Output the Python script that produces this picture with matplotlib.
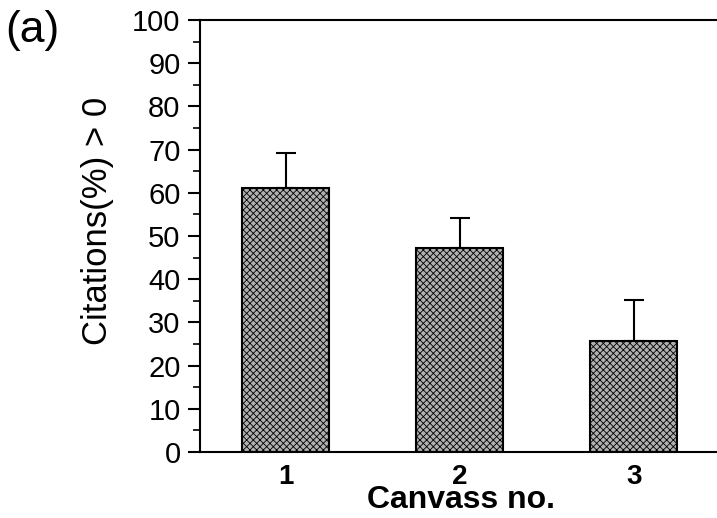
import matplotlib.pyplot as plt
import numpy as np

plt.rcParams["font.family"] = ["Liberation Sans", "DejaVu Sans"]
plt.rcParams["hatch.linewidth"] = 0.6

# data
canvass = [1, 2, 3]
citations = [61.1, 47.2, 25.8]
err_up = [8.1, 7.0, 9.3]
yticks = [0, 10, 20, 30, 40, 50, 60, 70, 80, 90, 100]

W, H = 717, 518
fig = plt.figure(figsize=(W / 100, H / 100), dpi=100)
ax = fig.add_axes([200 / W, 1 - 452 / H, 517 / W, 432 / H])

ax.bar(canvass, citations, width=0.5, color="#b0b0b0", edgecolor="black",
       linewidth=1.5, hatch="xxxxx", zorder=2)
ax.errorbar(canvass, citations, yerr=[np.zeros(3), err_up], fmt="none",
            ecolor="black", elinewidth=1.5, capsize=7, capthick=1.5, zorder=1)

ax.set_xlim(0.506, 3.477)
ax.set_ylim(0, 100)
ax.set_yticks(yticks)
ax.set_yticks(np.arange(5, 100, 10), minor=True)
ax.set_xticks(canvass)
ax.set_xticklabels([str(c) for c in canvass], fontsize=20, fontweight="bold")
ax.tick_params(axis="y", which="major", labelsize=21, length=9, width=1.5, pad=5)
ax.tick_params(axis="y", which="minor", length=5, width=1.2)
ax.tick_params(axis="x", length=0, pad=9)

for s in ["left", "bottom", "top"]:
    ax.spines[s].set_linewidth(1.5)
ax.spines["right"].set_visible(False)

fig.text(98 / W, 1 - 221 / H, "Citations(%) > 0", fontsize=25, rotation=90,
         ha="center", va="center")
fig.text(461 / W, 1 - 508 / H, "Canvass no.", fontsize=23, fontweight="bold",
         ha="center", va="baseline")
fig.text(5 / W, 1 - 10 / H, "(a)", fontsize=32, va="top", ha="left")

fig.savefig("out.png", dpi=100)
